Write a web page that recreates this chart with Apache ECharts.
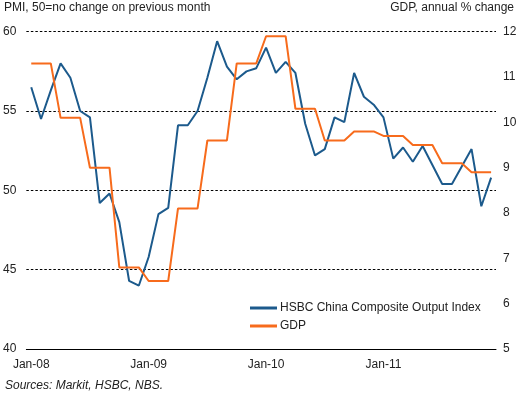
<!DOCTYPE html>
<html>
<head>
<meta charset="utf-8">
<script src="https://cdn.jsdelivr.net/npm/echarts@6/dist/echarts.min.js"></script>
<style>html,body{margin:0;padding:0;background:#fff;}#c{width:522px;height:394px;}</style>
</head>
<body>
<div id="c"></div>
<script>
const months = [
 'Jan-08','Feb-08','Mar-08','Apr-08','May-08','Jun-08','Jul-08','Aug-08','Sep-08','Oct-08','Nov-08','Dec-08',
 'Jan-09','Feb-09','Mar-09','Apr-09','May-09','Jun-09','Jul-09','Aug-09','Sep-09','Oct-09','Nov-09','Dec-09',
 'Jan-10','Feb-10','Mar-10','Apr-10','May-10','Jun-10','Jul-10','Aug-10','Sep-10','Oct-10','Nov-10','Dec-10',
 'Jan-11','Feb-11','Mar-11','Apr-11','May-11','Jun-11','Jul-11','Aug-11','Sep-11','Oct-11','Nov-11','Dec-11'
];
const pmi = [
 56.5,54.5,56.3,58.0,57.1,55.0,54.6,49.2,49.8,48.0,44.3,44.0,
 45.8,48.5,48.9,54.1,54.1,55.0,57.1,59.4,57.8,57.0,57.5,57.7,
 59.0,57.4,58.1,57.4,54.2,52.2,52.6,54.6,54.3,57.4,55.9,55.4,
 54.6,52.0,52.7,51.8,52.8,51.6,50.4,50.4,51.5,52.6,49.0,50.8
];
const gdp = [
 11.3,11.3,11.3,10.1,10.1,10.1,9.0,9.0,9.0,6.8,6.8,6.8,
 6.5,6.5,6.5,8.1,8.1,8.1,9.6,9.6,9.6,11.3,11.3,11.3,
 11.9,11.9,11.9,10.3,10.3,10.3,9.6,9.6,9.6,9.8,9.8,9.8,
 9.7,9.7,9.7,9.5,9.5,9.5,9.1,9.1,9.1,8.9,8.9,8.9
];
const leftTicks = [40, 60, 5];   // min, max, interval
const rightTicks = [5, 12, 1];
const names = ['HSBC China Composite Output Index', 'GDP'];
const colors = ['#1c5a8c', '#f76b1c'];

const font = 'Liberation Sans, Arial, sans-serif';
const chart = echarts.init(document.getElementById('c'), null, {renderer: 'canvas'});
chart.setOption({
  backgroundColor: '#ffffff',
  animation: false,
  grid: {left: 25, right: 26, top: 31.7, bottom: 45},
  graphic: [
    {type: 'text', left: 4, top: 2, style: {text: 'PMI, 50=no change on previous month', font: '12px ' + font, fill: '#222'}},
    {type: 'text', right: 8, top: 2, style: {text: 'GDP, annual % change', font: '12px ' + font, fill: '#222'}},
    {type: 'text', left: 5, top: 380, style: {text: 'Sources: Markit, HSBC, NBS.', font: 'italic 12px ' + font, fill: '#222'}}
  ],
  legend: {
    orient: 'vertical', left: 245, top: 297, itemGap: 6,
    itemWidth: 27, itemHeight: 3, icon: 'rect',
    textStyle: {fontFamily: font, fontSize: 12, color: '#222', padding: [0,0,0,-2]},
    data: names
  },
  xAxis: {
    type: 'category', data: months, boundaryGap: true,
    axisLine: {lineStyle: {color: '#000', width: 1}},
    axisTick: {interval: 11, length: 3, lineStyle: {color: '#000'}},
    axisLabel: {interval: 11, color: '#222', fontFamily: font, fontSize: 12, margin: 10},
    splitLine: {show: false}
  },
  yAxis: [
    {type: 'value', min: leftTicks[0], max: leftTicks[1], interval: leftTicks[2],
     axisLine: {show: false}, axisTick: {show: false},
     axisLabel: {color: '#222', fontFamily: font, fontSize: 12, margin: 10},
     splitLine: {show: true, lineStyle: {color: '#000', type: [2.5, 2], width: 1}}
    },
    {type: 'value', min: rightTicks[0], max: rightTicks[1], interval: rightTicks[2], position: 'right',
     axisLine: {show: false}, axisTick: {show: false},
     axisLabel: {color: '#222', fontFamily: font, fontSize: 12, margin: 7},
     splitLine: {show: false}
    }
  ],
  series: [
    {name: names[0], type: 'line', yAxisIndex: 0, data: pmi, symbol: 'none',
     lineStyle: {color: colors[0], width: 2}, itemStyle: {color: colors[0]}},
    {name: names[1], type: 'line', yAxisIndex: 1, data: gdp, symbol: 'none',
     lineStyle: {color: colors[1], width: 2}, itemStyle: {color: colors[1]}}
  ]
});
</script>
</body>
</html>
